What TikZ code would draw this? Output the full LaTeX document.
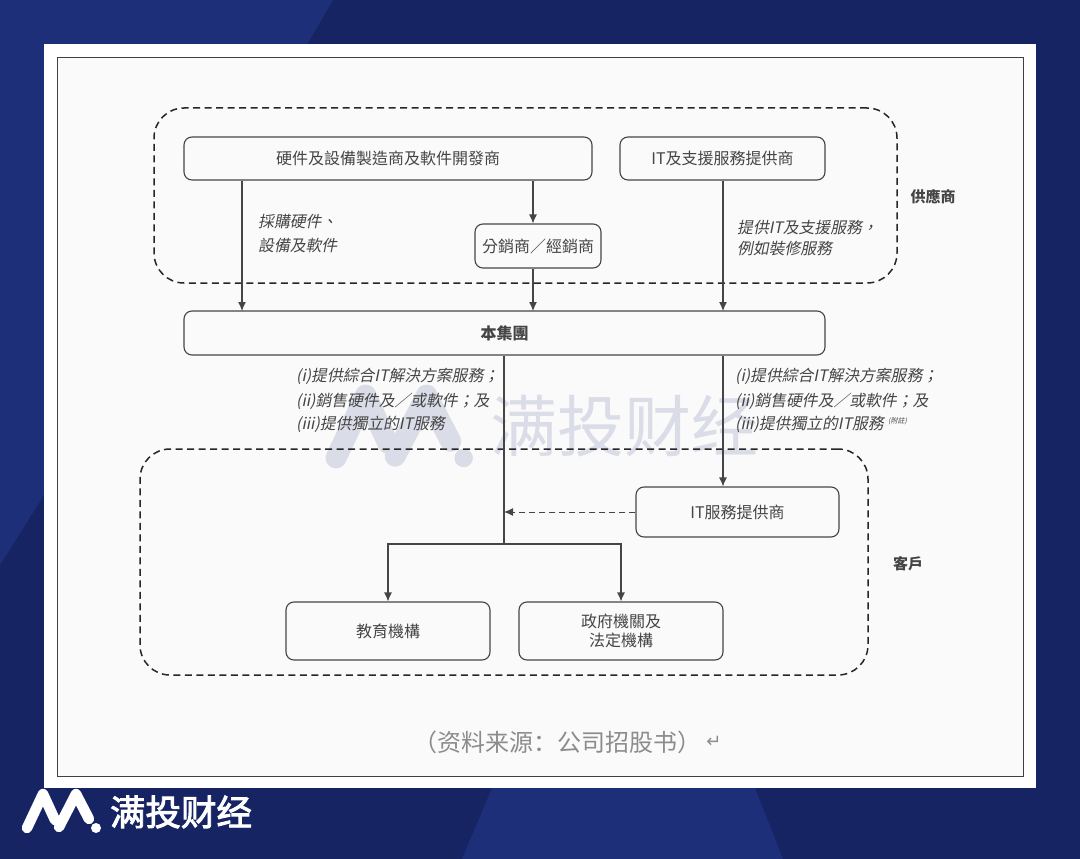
\documentclass[tikz,border=0pt]{standalone}
\usepackage{fontspec}
\setmainfont{Noto Sans CJK TC}
\newfontfamily\slantfont[FakeSlant=0.2]{Noto Sans CJK TC}
\newfontfamily\simpfont{Noto Sans CJK SC}
\newfontfamily\brandfont[FakeBold=2.5]{Noto Sans CJK SC}
\newfontfamily\arrowfont{DejaVu Sans}
\usepackage{tikz}
\usetikzlibrary{arrows.meta}
\definecolor{navydark}{HTML}{162464}
\definecolor{navylight}{HTML}{1C2F78}
\definecolor{paper}{HTML}{FAFAFA}
\definecolor{inkgray}{HTML}{454545}
\definecolor{markgray}{HTML}{DADCE8}
\tikzset{
    flowarrow/.style={-{Latex[length=9pt,width=8pt]}, color=inkgray, line width=1.1pt},
    flowline/.style={-, color=inkgray, line width=1.1pt},
    roundbox/.style={shape=rectangle, rounded corners=8pt, draw=inkgray, line width=1.1pt, text=inkgray, font=\fontsize{16}{19}\selectfont, align=center, inner sep=0pt},
    groupbox/.style={shape=rectangle, rounded corners=30pt, draw=black!85, line width=1.5pt, dash pattern=on 7pt off 4.5pt, inner sep=0pt},
    slantlabel/.style={anchor=west, text=inkgray, inner sep=0pt, font=\slantfont\fontsize{15.8}{18}\selectfont},
    sidelabel/.style={text=inkgray, inner sep=0pt, font=\bfseries\fontsize{15}{17}\selectfont},
    pics/brandmark/.style={code={
        \draw[line cap=round, line join=round] (0,0) -- (16,-34) -- (28,-8);
        \draw[line cap=round, line join=round] (32,-1) -- (49,-34) -- (62,-9);
        \fill (69,0) circle (5);
    }}
}

\begin{document}
\begin{tikzpicture}[x=1pt,y=-1pt]
    \useasboundingbox (0,0) rectangle (1080,859);
    % backdrop
    \fill[navydark] (0,0) rectangle (1080,859);
    \fill[navylight] (0,0) -- (333,0) -- (44,495) -- (0,565) -- cycle;
    \fill[navylight] (492,788) -- (755,788) -- (783,859) -- (462,859) -- cycle;
    \fill[white] (44,44) rectangle (1036,788);
    \fill[paper, draw=black!75, line width=0.8pt] (57,57) rectangle (1023,776);

    % watermark
    \pic[color=markgray, line width=21pt] at (336,458) [scale=1.85] {brandmark};
    \node[text=markgray, font=\simpfont\fontsize{67}{70}\selectfont, inner sep=0pt] (markname) at (624,426) {满投财经};

    % groups
    \node[groupbox, minimum width=743pt, minimum height=175pt] (suppliers) at (525.5,195.5) {};
    \node[groupbox, minimum width=728pt, minimum height=226pt] (customers) at (504,562) {};
    \node[sidelabel] (supplierlabel) at (933,197) {供應商};
    \node[sidelabel] (customerlabel) at (908,564) {客戶};

    % boxes
    \node[roundbox, minimum width=408pt, minimum height=43pt] (maker) at (388,158.5) {硬件及設備製造商及軟件開發商};
    \node[roundbox, minimum width=205pt, minimum height=43pt] (itsupport) at (722.5,158.5) {IT及支援服務提供商};
    \node[roundbox, minimum width=126pt, minimum height=44pt] (reseller) at (538,246) {分銷商／經銷商};
    \node[roundbox, minimum width=641pt, minimum height=44pt, font=\bfseries\fontsize{16}{19}\selectfont] (group) at (504.5,333) {本集團};
    \node[roundbox, minimum width=203pt, minimum height=50pt] (itprovider) at (737.5,512) {IT服務提供商};
    \node[roundbox, minimum width=204pt, minimum height=58pt] (education) at (388,631) {教育機構};
    \node[roundbox, minimum width=204pt, minimum height=58pt] (government) at (621,631) {政府機關及\\法定機構};

    % labels
    \node[slantlabel] (buylabela) at (258,222) {採購硬件、};
    \node[slantlabel] (buylabelb) at (258,246) {設備及軟件};
    \node[slantlabel] (servicelabela) at (737,228) {提供IT及支援服務，};
    \node[slantlabel] (servicelabelb) at (737,249) {例如裝修服務};
    \node[slantlabel] (lefta) at (296,376) {(i)提供綜合IT解決方案服務；};
    \node[slantlabel] (leftb) at (296,401) {(ii)銷售硬件及／或軟件；及};
    \node[slantlabel] (leftc) at (296,424) {(iii)提供獨立的IT服務};
    \node[slantlabel] (righta) at (735,376) {(i)提供綜合IT解決方案服務；};
    \node[slantlabel] (rightb) at (735,401) {(ii)銷售硬件及／或軟件；及};
    \node[slantlabel] (rightc) at (735,424) {(iii)提供獨立的IT服務};
    \node[slantlabel, font=\slantfont\fontsize{7}{8}\selectfont] (rightnote) at (888,421) {(附註)};

    % connector ends
    \coordinate (buyend) at (242,311);
    \coordinate (resellerend) at (533,311);
    \coordinate (itend) at (723,311);
    \coordinate (fork) at (504,544);
    \coordinate (merge) at (504,512);

    \path [flowarrow](maker.south -| buyend) edge (buyend);
    \path [flowarrow](maker.south -| resellerend) edge (reseller.north -| resellerend);
    \path [flowarrow](reseller.south -| resellerend) edge (resellerend);
    \path [flowarrow](itsupport.south -| itend) edge (itend);
    \path [flowline](group.south -| fork) edge (fork);
    \path [flowarrow](group.south -| itend) edge (itprovider.north -| itend);
    \path [flowarrow, dash pattern=on 6pt off 4pt, line width=0.9pt](itprovider.west) edge (merge);
    \draw [flowarrow](fork) -| (education.north);
    \draw [flowarrow](fork) -| (government.north);

    % caption and brand
    \node[text=black!45, font=\simpfont\fontsize{24}{28}\selectfont, inner sep=0pt] (source) at (557,742) {（资料来源：公司招股书）};
    \node[text=black!45, font=\arrowfont\fontsize{18}{20}\selectfont, inner sep=0pt] (sourcemark) at (714,742) {↵};
    \pic[color=white, line width=10.5pt] at (27,828) {brandmark};
    \node[text=white, font=\brandfont\fontsize{35.5}{38}\selectfont, inner sep=0pt] (brandname) at (181,812) {满投财经};
\end{tikzpicture}
\end{document}
